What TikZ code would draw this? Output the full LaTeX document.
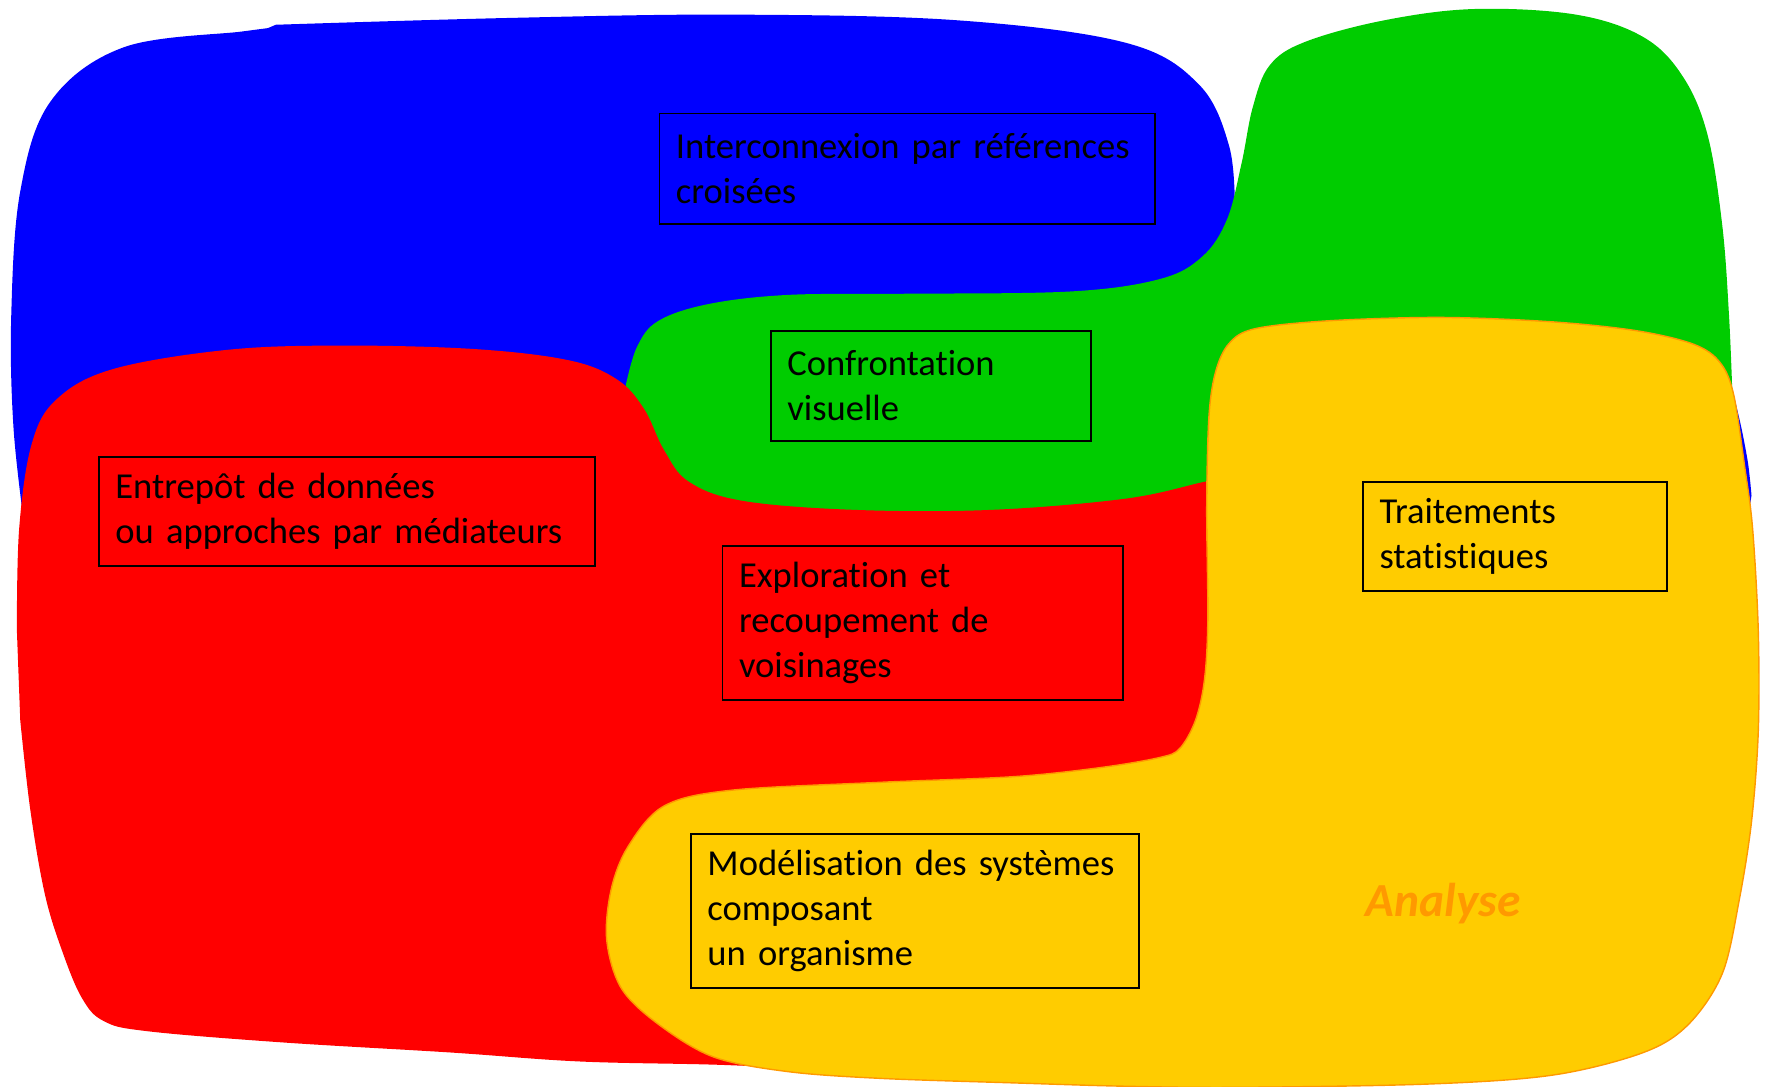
\documentclass[tikz,border=0pt]{standalone}
\usepackage{fontspec}
\setmainfont{Carlito}[Ligatures=NoCommon]
\usepackage{tikz}
\definecolor{zoneblue}{RGB}{0,0,255}
\definecolor{zonegreen}{RGB}{0,204,0}
\definecolor{zonered}{RGB}{255,0,0}
\definecolor{zoneyellow}{RGB}{255,204,0}
\definecolor{zoneorange}{RGB}{255,153,0}

\begin{document}
\begin{tikzpicture}[x=0.02251cm, y=-0.02251cm,
    zone/.style={rectangle,draw=black,line width=1.1pt,align=left,anchor=north west,
      inner xsep=0.33cm,inner ysep=0pt,font=\fontsize{20.8}{25.6}\selectfont}]
    \useasboundingbox (0,0) rectangle (1568,965);

    % blue zone (background)
    \fill[zoneblue] plot[smooth,tension=0.6] coordinates {(245,22) (450,16) (650,13) (850,18) (1000,38) (1065,75) (1092,130) (1097,185)}
      -- (1140,250) -- (1400,300) -- (1530,335)
      -- plot[smooth,tension=0.5] coordinates {(1540,350) (1547,380) (1553,412) (1556,440)}
      -- (1550,480) -- (1300,700) -- (800,850) -- (300,800) -- (40,560)
      -- plot[smooth,tension=0.6] coordinates {(22,470) (12,380) (10,280) (18,170) (45,90) (110,42) (215,28) (238,25)}
      -- cycle;

    % green zone
    \fill[zonegreen] plot[smooth,tension=0.6] coordinates {(556,342) (566,308) (585,285) (630,270) (700,262) (800,261) (950,259) (1030,248) (1068,228) (1090,195) (1103,145) (1113,95) (1128,58) (1160,37) (1230,18) (1310,8) (1400,13) (1460,33) (1495,68) (1517,120) (1530,200) (1536,280) (1539,350)}
      -- (1500,420) -- (1200,480) -- (800,480) -- (620,450) -- (560,420) -- cycle;

    % red zone
    \fill[zonered] plot[smooth,tension=0.6] coordinates {(15,560) (17,470) (28,395) (50,355) (100,328) (200,311) (300,307) (420,310) (505,320) (548,337) (572,363) (590,400) (612,428) (660,445) (760,453) (880,453) (1000,443) (1070,428) (1095,423)}
      -- (1130,430) -- (1160,720) -- (900,770) -- (640,790) -- (620,900)
      -- plot[smooth,tension=0.6] coordinates {(745,951) (640,946) (515,943) (400,935) (250,926) (130,916) (92,907) (73,887) (56,847) (40,795) (27,720) (18,640)}
      -- cycle;

    % yellow zone
    \filldraw[fill=zoneyellow,draw=zoneorange,line width=0.8pt] plot[smooth cycle,tension=0.55] coordinates {
      (650,702) (782,695) (900,690) (977,682) (1030,673) (1048,665) (1062,640) (1070,604) (1073,550) (1072,450) (1074,370) (1080,330) (1092,305) (1115,292)
      (1180,285) (1280,282) (1380,286) (1455,294) (1505,306) (1528,322) (1540,350) (1550,415) (1557,470) (1562,560) (1562,650) (1556,730) (1545,800) (1530,865)
      (1500,910) (1460,935) (1380,955) (1270,963) (1100,966) (1000,965) (900,962) (782,958) (700,952) (634,939) (585,910) (552,878) (539,835)
      (543,790) (558,752) (590,716)};

    \node[zone,text width=9.244cm,minimum height=2.206cm] (interco) at (585,100) {Interconnexion par références\\croisées};
    \node[zone,text width=5.733cm,minimum height=2.206cm] (confront) at (684,293) {Confrontation\\visuelle};
    \node[zone,text width=9.267cm,minimum height=2.183cm] (entrepot) at (87,405) {Entrepôt de données\\ou approches par médiateurs};
    \node[zone,text width=7.354cm,minimum height=3.084cm] (explo) at (641,484) {Exploration et\\recoupement de\\voisinages};
    \node[zone,text width=5.418cm,minimum height=2.183cm] (traitement) at (1210,427) {Traitements\\statistiques};
    \node[zone,text width=8.299cm,minimum height=3.084cm] (modelis) at (613,740) {Modélisation des systèmes\\composant\\un organisme};

    \node[text=zoneorange,font=\fontsize{27}{32}\selectfont\bfseries\itshape] (analyse) at (1282,803) {Analyse};
\end{tikzpicture}
\end{document}
